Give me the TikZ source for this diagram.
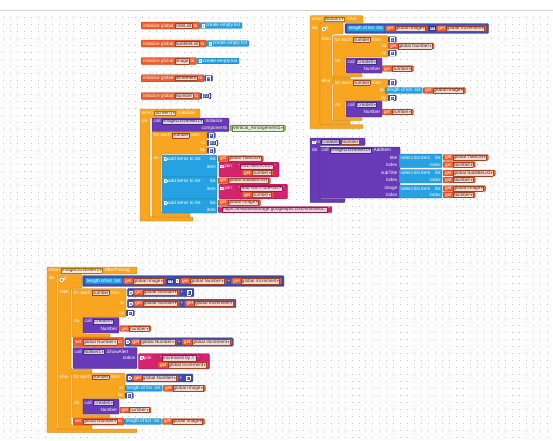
\documentclass[tikz,border=0pt]{standalone}
\usepackage{fontspec}
\setmainfont{Liberation Sans}
\newfontfamily\symfont{DejaVu Sans}
\usetikzlibrary{positioning,fit,backgrounds}
\pgfdeclarelayer{paper}
\pgfsetlayers{paper,background,main}

\definecolor{ctrlc}{RGB}{248,165,32}
\definecolor{varc}{RGB}{237,92,45}
\definecolor{lstc}{RGB}{38,161,226}
\definecolor{mthc}{RGB}{64,78,178}
\definecolor{txtc}{RGB}{214,35,110}
\definecolor{prcc}{RGB}{104,58,183}
\definecolor{cmpc}{RGB}{139,195,74}

\newcommand{\blkfont}{\fontsize{4}{4.4}\selectfont}
\newcommand{\dd}{\kern0.5pt{\symfont\fontsize{2.9}{3}\selectfont ▾}}
% dropdown field, plain name field, number, text string, gear icon
\newcommand{\fld}[2][varc]{{\setlength{\fboxsep}{0.5pt}\setlength{\fboxrule}{0.15pt}\fcolorbox{#1!70!black}{#1!25!white}{\textcolor{black!80}{#2\dd}}}}
\newcommand{\nm}[2][varc]{{\setlength{\fboxsep}{0.5pt}\setlength{\fboxrule}{0.15pt}\fcolorbox{#1!70!black}{#1!25!white}{\textcolor{black!80}{#2}}}}
\newcommand{\nfld}[1]{{\setlength{\fboxsep}{0.5pt}\setlength{\fboxrule}{0.25pt}\fcolorbox{white}{mthc}{\textcolor{white}{#1}}}}
\newcommand{\sfld}[1]{\textquotedblleft\,{\setlength{\fboxsep}{0.5pt}\setlength{\fboxrule}{0.15pt}\fcolorbox{txtc!70!black}{txtc!22!white}{\textcolor{black!80}{#1}}}\,\textquotedblright}
\newcommand{\gicon}[1][lstc]{{\setlength{\fboxsep}{0pt}\setlength{\fboxrule}{0.25pt}\fcolorbox{white}{#1!55!white}{\rule{0pt}{2.2pt}\rule{2.2pt}{0pt}}}}
% C-shaped statement block: left, top, head right, head bottom, arm right, arm bottom, foot right, foot bottom
\newcommand{\cshape}[9]{\draw[#1] (#2,#3) -- (#4,#3) -- (#4,#5) -- (#6,#5) -- (#6,#7) -- (#8,#7) -- (#8,#9) -- (#2,#9) -- cycle;}

\tikzset{
  sblk/.style={rounded corners=0.8pt, line width=0.25pt},
  ctl/.style={sblk, fill=ctrlc, draw=ctrlc!75!black},
  prc/.style={sblk, fill=prcc, draw=prcc!70!black},
  lstb/.style={sblk, fill=lstc, draw=lstc!75!black},
  val/.style={rounded corners=0.7pt, line width=0.25pt, inner xsep=1.6pt, inner ysep=0pt,
    minimum height=0.17cm, anchor=west, text=white, font=\blkfont},
  vvar/.style={val, fill=varc, draw=varc!75!black},
  vset/.style={vvar, minimum height=0.21cm},
  vlst/.style={val, fill=lstc, draw=lstc!75!black},
  vmth/.style={val, fill=mthc, draw=mthc!75!black},
  vtxt/.style={val, fill=txtc, draw=txtc!75!black},
  vcmp/.style={val, fill=cmpc, draw=cmpc!75!black},
  bare/.style={inner sep=0pt, anchor=west, text=white, font=\blkfont},
  grpm/.style={rounded corners=0.8pt, line width=0.25pt, inner sep=0.9pt, fill=mthc, draw=mthc!75!black},
  grpt/.style={rounded corners=0.8pt, line width=0.25pt, inner sep=0.9pt, fill=txtc, draw=txtc!75!black}
}

\begin{document}
\begin{tikzpicture}[x=0.03cm, y=-0.03cm]
\useasboundingbox (0,0) rectangle (553,440);
\begin{pgfonlayer}{paper}
\fill[white] (0,0) rectangle (553,440);
\draw[black!18, line width=0.5pt] (0,10.5) -- (553,10.5);
\foreach \gy in {17,24,...,437}
  \draw[black!22, line width=0.55pt, dash pattern=on 0.55pt off 5.4pt] (3,\gy) -- (553,\gy);
\end{pgfonlayer}

% global variables
\node[vset] (gTitle) at (141,25.5) {initialize global \nm{TitleList} to};
\node[vlst, right=0pt of gTitle] (gTitleV) {\gicon\ create empty list};
\node[vset] (gSub) at (141,43.5) {initialize global \nm{SubtitleList} to};
\node[vlst, right=0pt of gSub] (gSubV) {\gicon\ create empty list};
\node[vset] (gImage) at (141,61) {initialize global \nm{Image} to};
\node[vlst, right=0pt of gImage] (gImageV) {\gicon\ create empty list};
\node[vset] (gInc) at (141,78.3) {initialize global \nm{Increment} to};
\node[vmth, right=0pt of gInc] (gIncV) {\nfld{5}};
\node[vset] (gNum) at (141,96) {initialize global \nm{Number} to};
\node[vmth, right=0pt of gNum] (gNumV) {\nfld{10}};

% when Screen1.Initialize
\cshape{ctl}{140}{109}{200}{117.5}{150}{217}{193}{221}
\node[bare] (initHd) at (141.5,113) {when \fld[ctrlc]{Screen1} .Initialize};
\node[bare] (initDo) at (142,121) {do};
\draw[prc] (152,118) rectangle (229,131.5);
\node[bare] (initCall) at (153.5,121.5) {call \fld[prcc]{ImageListViewer1} .Initialize};
\node[bare, anchor=east] (initComp) at (227.5,128) {components};
\node[vcmp] (initArr) at (230,128) {\fld[cmpc]{Vertical\_Arrangement1}};
\cshape{ctl}{152}{132}{207}{154}{161}{213}{190}{217}
\node[bare] (initFor) at (153.5,135.3) {for each \nm{number} from};
\node[vmth] (initFrom) at (207,135.3) {\nfld{1}};
\node[bare, anchor=east] (initTo) at (205.5,143) {to};
\node[vmth] (initToV) at (207,143) {\nfld{30}};
\node[bare, anchor=east] (initBy) at (205.5,150.5) {by};
\node[vmth] (initByV) at (207,150.5) {\nfld{1}};
\node[bare] (initForDo) at (153.5,158) {do};

\draw[lstb] (162,155) rectangle (217,177);
\node[bare] (addT) at (163.5,158.7) {\gicon\ add items to list};
\node[bare, anchor=east] (addTl) at (216,158.7) {list};
\node[bare, anchor=east] (addTi) at (216,166.5) {item};
\node[vvar] (addTlV) at (218,158.7) {get \fld{global TitleList}};
\node[bare] (joinTl) at (220,166.2) {\gicon[txtc]\ join};
\node[vtxt] (strT) at (236,166.2) {\sfld{<h1>Item</h1>}};
\node[vvar] (getT) at (242,172.8) {get \fld{number}};

\draw[lstb] (162,177) rectangle (217,199);
\node[bare] (addS) at (163.5,180.7) {\gicon\ add items to list};
\node[bare, anchor=east] (addSl) at (216,180.7) {list};
\node[bare, anchor=east] (addSi) at (216,188.5) {item};
\node[vvar] (addSlV) at (218,180.7) {get \fld{global SubtitleList}};
\node[bare] (joinSl) at (220,188.2) {\gicon[txtc]\ join};
\node[vtxt] (strS) at (236,188.2) {\sfld{Sub <br/>Title<br/>}};
\node[vvar] (getS) at (242,194.8) {get \fld{number}};

\draw[lstb] (162,199) rectangle (217,213);
\node[bare] (addI) at (163.5,202.7) {\gicon\ add items to list};
\node[bare, anchor=east] (addIl) at (216,202.7) {list};
\node[bare, anchor=east] (addIi) at (216,209.6) {item};
\node[vvar] (addIlV) at (218,202.7) {get \fld{global Image}};
\node[vtxt] (urlI) at (218,209.6) {\sfld{https://firebasestorage.googleapis.com/v0/b/ana...}};

% when Button1.Click
\cshape{ctl}{310}{15.7}{363}{22.5}{320}{124.5}{363}{128.5}
\node[bare] (clkHd) at (311.5,19.2) {when \fld[ctrlc]{Button1} .Click};
\node[bare] (clkDo) at (312,27.5) {do};
\draw[ctl] (320,23) -- (343,23) -- (343,34) -- (332,34) -- (332,77) -- (350,77) -- (350,83)
  -- (332,83) -- (332,120.5) -- (350,120.5) -- (350,124.5) -- (320,124.5) -- cycle;
\node[bare] (clkIf) at (321.5,28) {\gicon[mthc]\ if};
\node[bare] (clkThen) at (321.5,38.5) {then};
\node[bare] (clkElse) at (321.5,80.5) {else};
\node[vlst] (clkLen) at (347,28.5) {length of list \ list};
\node[vvar, right=0.6pt of clkLen] (clkImg) {get \fld{global Image}};
\node[bare, right=0.8pt of clkImg] (clkOp) {\fld[mthc]{≥}};
\node[vvar, right=0.8pt of clkOp] (clkIncr) {get \fld{global Increment}};

\cshape{ctl}{333}{35.7}{388}{57}{345}{73.5}{362}{77}
\node[bare] (clkFor) at (334.5,39.5) {for each \nm{number} from};
\node[vmth] (clkFrom) at (388,39.5) {\nfld{1}};
\node[bare, anchor=east] (clkTo) at (386.5,46) {to};
\node[vvar] (clkToV) at (388,46) {get \fld{global Number}};
\node[bare, anchor=east] (clkBy) at (386.5,53.2) {by};
\node[vmth] (clkByV) at (388,53.2) {\nfld{1}};
\node[bare] (clkForDo) at (335,61) {do};
\draw[prc] (346,58) rectangle (382,73);
\node[bare] (clkCall) at (347.5,61.5) {call \fld[prcc]{Create0}};
\node[bare, anchor=east] (clkArg) at (380.5,68.5) {Number};
\node[vvar] (clkGetN) at (382,68.5) {get \fld{number}};

\cshape{ctl}{333}{79}{388}{100.5}{345}{117.5}{362}{120.5}
\node[bare] (clkFor2) at (334.5,82.5) {for each \nm{number} from};
\node[vmth] (clkFrom2) at (388,82.5) {\nfld{1}};
\node[bare, anchor=east] (clkTo2) at (384,90.5) {to};
\node[vlst] (clkLen2) at (385,90.5) {length of list \ list};
\node[vvar, right=0.6pt of clkLen2] (clkImg2) {get \fld{global Image}};
\node[bare, anchor=east] (clkBy2) at (386.5,98) {by};
\node[vmth] (clkByV2) at (388,98) {\nfld{1}};
\node[bare] (clkForDo2) at (335,104.5) {do};
\draw[prc] (346,101) rectangle (382,117);
\node[bare] (clkCall2) at (347.5,104.5) {call \fld[prcc]{Create0}};
\node[bare, anchor=east] (clkArg2) at (380.5,112) {Number};
\node[vvar] (clkGetN2) at (382,112) {get \fld{number}};

% to Create0 Number
\cshape{prc}{310}{138}{365}{145.5}{320}{198.5}{345}{202.5}
\node[bare] (procHd) at (311.5,141.7) {\gicon\ to \nm[prcc]{Create0} \nm{Number}};
\node[bare] (procDo) at (312,150) {do};
\draw[prc] (320,147) rectangle (400,198);
\node[bare] (addCall) at (321.5,150.5) {call \fld[prcc]{ImageListViewer1} .AddItem};
\node[bare, anchor=east] (argTitle) at (397.5,157.5) {title};
\node[bare, anchor=east] (argIdx1) at (397.5,164.5) {index};
\node[bare, anchor=east] (argSub) at (397.5,173) {subTitle};
\node[bare, anchor=east] (argIdx2) at (397.5,180) {index};
\node[bare, anchor=east] (argImg) at (397.5,188.5) {image};
\node[bare, anchor=east] (argIdx3) at (397.5,195) {index};

\draw[lstb] (399,154) rectangle (442,167.5);
\node[bare] (selT) at (400.5,157.5) {select list item};
\node[bare, anchor=east] (selTl) at (441,157.5) {list};
\node[bare, anchor=east] (selTi) at (441,164.5) {index};
\node[vvar] (selTv) at (443,157.5) {get \fld{global TitleList}};
\node[vvar] (selTn) at (443,164.5) {get \fld{Number}};
\draw[lstb] (399,169.5) rectangle (442,183);
\node[bare] (selS) at (400.5,173) {select list item};
\node[bare, anchor=east] (selSl) at (441,173) {list};
\node[bare, anchor=east] (selSi) at (441,180) {index};
\node[vvar] (selSv) at (443,173) {get \fld{global SubtitleList}};
\node[vvar] (selSn) at (443,180) {get \fld{Number}};
\draw[lstb] (399,185) rectangle (442,198);
\node[bare] (selI) at (400.5,188.5) {select list item};
\node[bare, anchor=east] (selIl) at (441,188.5) {list};
\node[bare, anchor=east] (selIi) at (441,195) {index};
\node[vvar] (selIv) at (443,188.5) {get \fld{global Image}};
\node[vvar] (selIn) at (443,195) {get \fld{Number}};

% when ImageListViewer1.AfterPicking
\cshape{ctl}{47}{267}{137}{274}{57}{429}{137}{432.5}
\node[bare] (apHd) at (48.5,270.5) {when \fld[ctrlc]{ImageListViewer1} .AfterPicking};
\node[bare] (apDo) at (49,278) {do};
\draw[ctl] (58,274.5) -- (82,274.5) -- (82,288) -- (71,288) -- (71,369) -- (92,369) -- (92,373)
  -- (71,373) -- (71,425) -- (92,425) -- (92,429) -- (58,429) -- cycle;
\node[bare] (apIf) at (59.5,279) {\gicon[mthc]\ if};
\node[bare] (apThen) at (59.5,292) {then};
\node[bare] (apElse) at (59.5,377) {else};
\node[vlst] (apLen) at (85,281) {length of list \ list};
\node[vvar, right=0.6pt of apLen] (apImg) {get \fld{global Image}};
\node[bare, right=0.8pt of apImg] (apOp) {\fld[mthc]{>}};
\node[bare, right=1.5pt of apOp] (apGear) {\gicon[mthc]};
\node[vvar, right=1pt of apGear] (apNum) {get \fld{global Number}};
\node[bare, right=0.8pt of apNum] (apPlus) {+};
\node[vvar, right=0.8pt of apPlus] (apInc) {get \fld{global Increment}};

\cshape{ctl}{72}{288.5}{126}{317}{83}{334}{110}{337}
\node[bare] (apFor) at (73.5,292.5) {for each \nm{number} from};
\node[bare] (apFromG) at (128.5,292.5) {\gicon[mthc]};
\node[vvar, right=1pt of apFromG] (apFromN) {get \fld{global Number}};
\node[bare, right=0.8pt of apFromN] (apFromP) {+};
\node[vmth, right=0.8pt of apFromP] (apFrom1) {\nfld{1}};
\node[bare, anchor=east] (apTo) at (124.5,303.5) {to};
\node[bare] (apToG) at (128.5,303.5) {\gicon[mthc]};
\node[vvar, right=1pt of apToG] (apToN) {get \fld{global Number}};
\node[bare, right=0.8pt of apToN] (apToP) {+};
\node[vvar, right=0.8pt of apToP] (apToI) {get \fld{global Increment}};
\node[bare, anchor=east] (apBy) at (124.5,313) {by};
\node[vmth] (apByV) at (126,313) {\nfld{1}};
\node[bare] (apForDo) at (74,321) {do};
\draw[prc] (83,317.5) rectangle (119,333);
\node[bare] (apCall) at (84.5,321.3) {call \fld[prcc]{Create0}};
\node[bare, anchor=east] (apArg) at (117.5,328.5) {Number};
\node[vvar] (apGetN) at (119.5,328.5) {get \fld{number}};

\node[vset, minimum height=0.28cm] (apSet) at (73,342) {set \fld{global Number} to};
\node[bare, right=1.5pt of apSet] (apSetG) {\gicon[mthc]};
\node[vvar, right=1pt of apSetG] (apSetN) {get \fld{global Number}};
\node[bare, right=0.8pt of apSetN] (apSetP) {+};
\node[vvar, right=0.8pt of apSetP] (apSetI) {get \fld{global Increment}};

\draw[prc] (73,347.5) rectangle (137,368.5);
\node[bare] (apAlert) at (74.5,351.5) {call \fld[prcc]{Notifier1} .ShowAlert};
\node[bare, anchor=east] (apNotice) at (135.5,358) {notice};
\node[bare] (apJoinL) at (139.5,357.8) {\gicon[txtc]\ join};
\node[vtxt] (apStr) at (158,357.8) {\sfld{Increment by = }};
\node[vvar] (apStrI) at (158,364.8) {get \fld{global Increment}};

\cshape{ctl}{72}{373}{125}{398.5}{83}{414.5}{110}{417.5}
\node[bare] (apFor2) at (73.5,377) {for each \nm{number} from};
\node[bare] (apFromG2) at (127.5,378) {\gicon[mthc]};
\node[vvar, right=1pt of apFromG2] (apFromN2) {get \fld{global Number}};
\node[bare, right=0.8pt of apFromN2] (apFromP2) {+};
\node[vmth, right=0.8pt of apFromP2] (apFrom12) {\nfld{1}};
\node[bare, anchor=east] (apTo2) at (123.5,388.3) {to};
\node[vlst] (apLen2) at (125,388.3) {length of list \ list};
\node[vvar, right=0.6pt of apLen2] (apImg2) {get \fld{global Image}};
\node[bare, anchor=east] (apBy2) at (123.5,395.5) {by};
\node[vmth] (apByV2) at (125,395.5) {\nfld{1}};
\node[bare] (apForDo2) at (74,402.5) {do};
\draw[prc] (83,399) rectangle (119,414);
\node[bare] (apCall2) at (84.5,402.5) {call \fld[prcc]{Create0}};
\node[bare, anchor=east] (apArg2) at (117.5,410) {Number};
\node[vvar] (apGetN2) at (119.5,410) {get \fld{number}};

\node[vset] (apSet2) at (73,421.5) {set \fld{global Number} to};
\node[vlst, right=0pt of apSet2] (apSetL2) {length of list \ list};
\node[vvar, right=0.6pt of apSetL2] (apSetI2) {get \fld{global Image}};

% value blocks that hold other blocks
\begin{scope}[on background layer]
\node[grpt, fit=(joinTl)(strT)(getT)] (joinT) {};
\node[grpt, fit=(joinSl)(strS)(getS)] (joinS) {};
\node[grpm, inner sep=1.6pt, fit=(clkLen)(clkIncr)] (clkCmp) {};
\node[grpm, inner sep=2pt, fit=(apLen)(apInc)] (apCmp) {};
\node[grpm, fit=(apGear)(apInc)] (apAdd) {};
\node[grpm, fit=(apFromG)(apFrom1)] (apFromAdd) {};
\node[grpm, fit=(apToG)(apToI)] (apToAdd) {};
\node[grpm, fit=(apSetG)(apSetI)] (apSetAdd) {};
\node[grpt, fit=(apJoinL)(apStr)(apStrI)] (apJoin) {};
\node[grpm, fit=(apFromG2)(apFrom12)] (apFromAdd2) {};
\end{scope}
\end{tikzpicture}
\end{document}
